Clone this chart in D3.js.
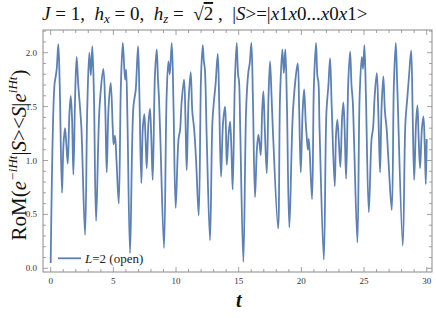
<!DOCTYPE html>
<html>
<head>
<meta charset="utf-8">
<script src="https://cdn.jsdelivr.net/npm/d3@7"></script>
<style>
  body { margin: 0; background: #fff; }
  text { font-family: "Liberation Serif", "Times New Roman", serif; white-space: pre; }
</style>
</head>
<body>
<div id="chart"></div>
<script>
// time samples and RoM values
const tValues = [
  0, 0.30, 0.40, 0.48, 0.61, 0.72, 0.90,
  1.02, 1.14, 1.25, 1.36,
  1.50, 1.60, 1.70, 1.81,
  1.95, 2.07, 2.20, 2.34, 2.45, 2.74,
  2.92, 3.08, 3.20, 3.32, 3.45, 3.62,
  3.90, 4.20, 4.35, 4.47,
  4.62, 4.79, 4.95, 5.02, 5.13, 5.25, 5.43,
  5.60, 5.75, 5.88, 5.95, 6.02, 6.12, 6.33,
  6.60, 6.78, 6.85, 6.97, 7.08, 7.23,
  7.35, 7.47, 7.57, 7.66,
  7.80, 7.92, 8.03, 8.14,
  8.32, 8.46, 8.56, 8.64, 8.75, 9.04,
  9.25, 9.39, 9.50, 9.66, 9.80, 9.97,
  10.20, 10.32, 10.45, 10.64, 10.75, 10.85,
  11.00, 11.17, 11.30, 11.44, 11.60, 11.81,
  12.00, 12.13, 12.22, 12.30, 12.45, 12.71,
  12.90, 13.03, 13.15, 13.33, 13.45, 13.59,
  13.75, 13.91, 13.98, 14.05,
  14.20, 14.31, 14.42, 14.52,
  14.70, 14.84, 14.95, 15.03, 15.12, 15.37,
  15.60, 15.77, 15.88, 16.01, 16.13, 16.30,
  16.45, 16.57, 16.67, 16.76,
  16.87, 16.97, 17.08, 17.24,
  17.38, 17.50, 17.62, 17.72, 18.14,
  18.30, 18.48, 18.60, 18.72, 18.85, 19.04,
  19.35, 19.71, 19.82, 19.95,
  20.10, 20.22, 20.35, 20.43, 20.52, 20.60, 20.85,
  21.00, 21.17, 21.28, 21.36, 21.45, 21.79,
  22.00, 22.16, 22.29, 22.42, 22.66,
  22.77, 22.87, 22.98, 23.11,
  23.25, 23.35, 23.45, 23.57,
  23.75, 23.89, 24.00, 24.10, 24.20, 24.47,
  24.65, 24.82, 24.92, 25.03, 25.15, 25.38,
  25.60, 25.72, 25.85, 26.02, 26.15, 26.28,
  26.40, 26.54, 26.67, 26.80, 26.95, 27.21,
  27.38, 27.53, 27.65, 28.09,
  28.30, 28.46, 28.60, 28.76, 28.87, 29.00,
  29.15, 29.26, 29.36, 29.47,
  29.62, 29.74, 29.84, 29.93,
  30.00
];
const romValues = [
  0.05, 1.70, 1.78, 1.85, 2.08, 1.70, 0.70,
  1.15, 1.30, 1.15, 0.97,
  1.45, 1.60, 1.40, 0.87,
  1.60, 1.96, 1.70, 1.49, 1.30, 0.31,
  1.50, 2.00, 1.79, 2.06, 1.60, 0.44,
  1.50, 1.85, 1.50, 0.89,
  1.50, 1.72, 1.30, 1.15, 1.23, 1.00, 0.60,
  1.70, 2.09, 1.84, 1.75, 1.84, 1.40, 0.14,
  1.50, 1.65, 1.80, 2.06, 1.60, 0.79,
  1.30, 1.43, 1.20, 0.93,
  1.35, 1.48, 1.20, 0.82,
  1.80, 2.03, 1.75, 1.58, 1.20, 0.19,
  1.60, 1.92, 1.80, 2.09, 1.50, 0.56,
  1.20, 1.28, 1.55, 1.75, 1.40, 0.91,
  1.55, 1.82, 1.45, 1.30, 1.00, 0.49,
  1.80, 2.07, 1.92, 1.85, 1.20, 0.26,
  1.35, 1.56, 1.70, 1.99, 1.50, 0.85,
  1.35, 1.50, 1.30, 0.96,
  1.25, 1.36, 1.10, 0.73,
  1.75, 2.09, 1.80, 1.73, 1.30, 0.06,
  1.50, 1.82, 1.90, 2.09, 1.60, 0.66,
  1.10, 1.24, 1.15, 1.05,
  1.45, 1.64, 1.30, 0.88,
  1.60, 1.92, 1.60, 1.30, 0.37,
  1.60, 2.03, 1.81, 2.03, 1.50, 0.38,
  1.50, 1.90, 1.50, 0.89,
  1.45, 1.66, 1.35, 1.22, 1.10, 1.20, 0.64,
  1.70, 2.09, 1.78, 1.73, 1.30, 0.08,
  1.45, 1.70, 1.95, 1.50, 0.76,
  1.25, 1.38, 1.20, 0.94,
  1.40, 1.54, 1.30, 0.83,
  1.75, 2.01, 1.70, 1.55, 1.20, 0.24,
  1.60, 1.96, 1.85, 2.07, 1.60, 0.52,
  1.20, 1.30, 1.60, 1.81, 1.40, 0.89,
  1.50, 1.78, 1.45, 1.30, 1.00, 0.54,
  1.70, 2.09, 1.70, 0.21,
  1.35, 1.59, 1.80, 2.02, 1.50, 0.82,
  1.35, 1.51, 1.20, 0.93,
  1.30, 1.41, 1.15, 0.78,
  1.20
];
const xTicks = [0, 5, 10, 15, 20, 25, 30];
const yTicks = [0.0, 0.5, 1.0, 1.5, 2.0];
const legendLabel = "=2 (open)";

const svgWidth = 436;
const svgHeight = 318;
const frame = { left: 43, right: 432, top: 30, bottom: 272 };

const svg = d3.select("#chart")
  .append("svg")
  .attr("width", svgWidth)
  .attr("height", svgHeight);

const x = d3.scaleLinear().domain([0, 30]).range([50.7, 426.7]);
const y = d3.scaleLinear().domain([0, 2]).range([268.3, 52.7]);

const frameColor = "#8a8a8a";

// frame
svg.append("rect")
  .attr("x", frame.left)
  .attr("y", frame.top)
  .attr("width", frame.right - frame.left)
  .attr("height", frame.bottom - frame.top)
  .attr("fill", "none")
  .attr("stroke", frameColor)
  .attr("stroke-width", 1);

// ticks on all four sides, pointing inward
const xMinor = d3.range(0, 31, 1);
const yMinor = d3.range(0, 2.21, 0.1);
const ticks = svg.append("g").attr("stroke", frameColor).attr("stroke-width", 0.8);

xMinor.forEach(v => {
  const len = v % 5 === 0 ? 5 : 3;
  ticks.append("line").attr("x1", x(v)).attr("x2", x(v))
    .attr("y1", frame.bottom).attr("y2", frame.bottom - len);
  ticks.append("line").attr("x1", x(v)).attr("x2", x(v))
    .attr("y1", frame.top).attr("y2", frame.top + len);
});
yMinor.forEach((v, i) => {
  const len = i % 5 === 0 ? 5 : 3;
  ticks.append("line").attr("y1", y(v)).attr("y2", y(v))
    .attr("x1", frame.left).attr("x2", frame.left + len);
  ticks.append("line").attr("y1", y(v)).attr("y2", y(v))
    .attr("x1", frame.right).attr("x2", frame.right - len);
});

// tick labels
svg.append("g").selectAll("text")
  .data(xTicks)
  .enter()
  .append("text")
  .attr("x", d => x(d))
  .attr("y", 284)
  .attr("text-anchor", "middle")
  .attr("font-size", 9)
  .attr("fill", "#333")
  .text(d => d);

svg.append("g").selectAll("text")
  .data(yTicks)
  .enter()
  .append("text")
  .attr("x", 37)
  .attr("y", d => y(d) + 3)
  .attr("text-anchor", "end")
  .attr("font-size", 9)
  .attr("fill", "#333")
  .text(d => d.toFixed(1));

// the curve
const points = tValues.map((t, i) => [t, romValues[i]]);
const line = d3.line()
  .x(d => x(d[0]))
  .y(d => y(d[1]))
  .curve(d3.curveCatmullRom.alpha(0.5));

svg.append("path")
  .datum(points)
  .attr("d", line)
  .attr("fill", "none")
  .attr("stroke", "#5e81b5")
  .attr("stroke-width", 1.8)
  .attr("stroke-linejoin", "round");

// legend
svg.append("line")
  .attr("x1", 58).attr("x2", 81)
  .attr("y1", 258.3).attr("y2", 258.3)
  .attr("stroke", "#5e81b5")
  .attr("stroke-width", 1.8);

const legendText = svg.append("text")
  .attr("x", 85)
  .attr("y", 262.5)
  .attr("font-size", 13)
  .attr("fill", "#222");
legendText.append("tspan").attr("font-style", "italic").text("L");
legendText.append("tspan").text(legendLabel);

// title
const title = svg.append("text")
  .attr("x", 42)
  .attr("y", 20)
  .attr("font-size", 19)
  .attr("fill", "#111");
title.append("tspan").attr("font-style", "italic").text("J");
title.append("tspan").text(" = 1,  ");
title.append("tspan").attr("font-style", "italic").text("h");
title.append("tspan").attr("font-style", "italic").attr("font-size", 13).attr("dy", 3).text("x");
title.append("tspan").attr("dy", -3).text(" = 0,  ");
title.append("tspan").attr("font-style", "italic").text("h");
title.append("tspan").attr("font-style", "italic").attr("font-size", 13).attr("dy", 3).text("z");
title.append("tspan").attr("dy", -3).text(" =  ");
title.append("tspan").text("\u221A");
title.append("tspan").attr("text-decoration", "overline").text("2");
title.append("tspan").text(" ,  |");
title.append("tspan").attr("font-style", "italic").text("S");
title.append("tspan").text(">=|");
title.append("tspan").attr("font-style", "italic").text("x");
title.append("tspan").text("1");
title.append("tspan").attr("font-style", "italic").text("x");
title.append("tspan").text("0...");
title.append("tspan").attr("font-style", "italic").text("x");
title.append("tspan").text("0");
title.append("tspan").attr("font-style", "italic").text("x");
title.append("tspan").text("1>");

// x axis label
svg.append("text")
  .attr("x", x(15))
  .attr("y", 307)
  .attr("text-anchor", "middle")
  .attr("font-size", 20)
  .attr("font-style", "italic")
  .attr("font-weight", "bold")
  .attr("fill", "#111")
  .text("t");

// y axis label
const yLabel = svg.append("text")
  .attr("transform", `translate(26, ${(frame.top + frame.bottom) / 2 + 4}) rotate(-90)`)
  .attr("text-anchor", "middle")
  .attr("font-size", 21)
  .attr("fill", "#111");
yLabel.append("tspan").text("RoM(");
yLabel.append("tspan").attr("font-style", "italic").text("e");
yLabel.append("tspan").attr("font-size", 13).attr("dy", -9).attr("font-style", "italic").text("\u2212iHt");
yLabel.append("tspan").attr("dy", 9).text("|");
yLabel.append("tspan").attr("font-style", "italic").text("S");
yLabel.append("tspan").text("><");
yLabel.append("tspan").attr("font-style", "italic").text("S");
yLabel.append("tspan").text("|");
yLabel.append("tspan").attr("font-style", "italic").text("e");
yLabel.append("tspan").attr("font-size", 13).attr("dy", -9).attr("font-style", "italic").text("iHt");
yLabel.append("tspan").attr("dy", 9).text(")");
</script>
</body>
</html>
